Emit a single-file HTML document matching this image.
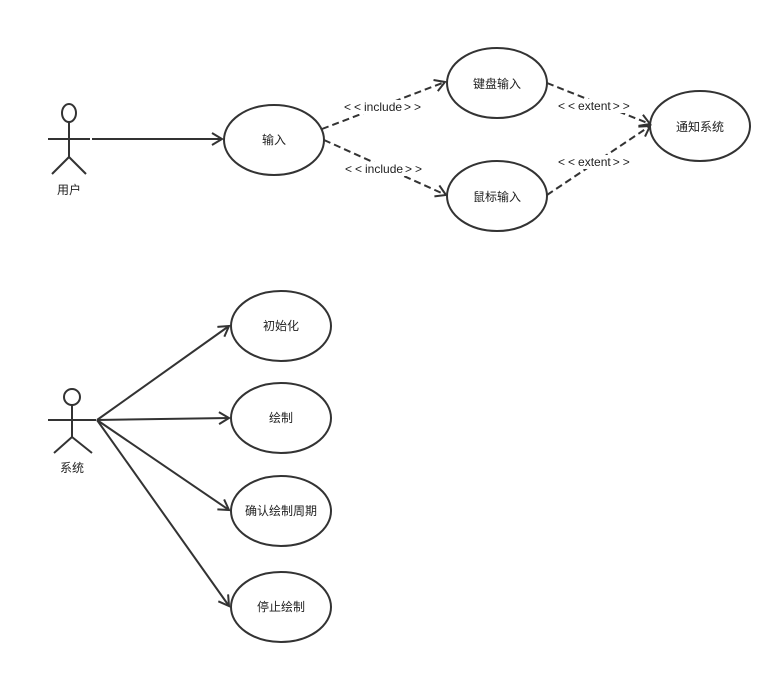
<!DOCTYPE html>
<html><head><meta charset="utf-8"><style>
html,body{margin:0;padding:0;background:#fff;width:781px;height:673px;overflow:hidden}
text{font-family:"Liberation Sans","Noto Sans CJK SC",sans-serif;font-size:12px;fill:#222}
.c{letter-spacing:3px}
</style></head><body>
<svg width="781" height="673" viewBox="0 0 781 673" xmlns="http://www.w3.org/2000/svg">
<defs>
<marker id="a" markerWidth="14" markerHeight="14" refX="11" refY="7" orient="auto" markerUnits="userSpaceOnUse">
<path d="M1,1 L11,7 L1,13" fill="none" stroke="#333" stroke-width="2"/></marker>
</defs>
<g stroke="#333" stroke-width="2" fill="none">
<ellipse cx="69" cy="113" rx="7" ry="9"/>
<line x1="69" y1="122" x2="69" y2="157"/>
<line x1="48" y1="139" x2="90" y2="139"/>
<line x1="69" y1="157" x2="52" y2="174"/>
<line x1="69" y1="157" x2="86" y2="174"/>
<line x1="92" y1="139" x2="222" y2="139" marker-end="url(#a)"/>
<ellipse cx="274" cy="140" rx="50" ry="35"/>
<ellipse cx="497" cy="83" rx="50" ry="35"/>
<ellipse cx="497" cy="196" rx="50" ry="35"/>
<ellipse cx="700" cy="126" rx="50" ry="35"/>
<g stroke-dasharray="7,4">
<line x1="322" y1="129" x2="445" y2="82" marker-end="url(#a)"/>
<line x1="324" y1="140" x2="446" y2="195" marker-end="url(#a)"/>
<line x1="547" y1="83" x2="650" y2="124" marker-end="url(#a)"/>
<line x1="547" y1="195" x2="650" y2="126" marker-end="url(#a)"/>
</g>
<circle cx="72" cy="397" r="8"/>
<line x1="72" y1="405" x2="72" y2="437"/>
<line x1="48" y1="420" x2="96" y2="420"/>
<line x1="72" y1="437" x2="54" y2="453"/>
<line x1="72" y1="437" x2="92" y2="453"/>
<line x1="97" y1="420" x2="229" y2="326" marker-end="url(#a)"/>
<line x1="97" y1="420" x2="229" y2="418" marker-end="url(#a)"/>
<line x1="97" y1="420" x2="229" y2="510" marker-end="url(#a)"/>
<line x1="97" y1="420" x2="229" y2="606" marker-end="url(#a)"/>
<ellipse cx="281" cy="326" rx="50" ry="35"/>
<ellipse cx="281" cy="418" rx="50" ry="35"/>
<ellipse cx="281" cy="511" rx="50" ry="35"/>
<ellipse cx="281" cy="607" rx="50" ry="35"/>
</g>
<g fill="#fff">
<rect x="343" y="100" width="84" height="14"/>
<rect x="344" y="162" width="84" height="14"/>
<rect x="558" y="99" width="82" height="14"/>
<rect x="558" y="155" width="82" height="14"/>
</g>
<g text-anchor="middle">
<text x="69" y="194">用户</text>
<text x="274" y="144">输入</text>
<text x="497" y="88">键盘输入</text>
<text x="497" y="201">鼠标输入</text>
<text x="700" y="131">通知系统</text>
</g>
<text x="344" y="111"><tspan class="c">&lt;&lt;</tspan>include<tspan class="c" dx="2">&gt;&gt;</tspan></text>
<text x="345" y="173"><tspan class="c">&lt;&lt;</tspan>include<tspan class="c" dx="2">&gt;&gt;</tspan></text>
<text x="558" y="110"><tspan class="c">&lt;&lt;</tspan>extent<tspan class="c" dx="2">&gt;&gt;</tspan></text>
<text x="558" y="166"><tspan class="c">&lt;&lt;</tspan>extent<tspan class="c" dx="2">&gt;&gt;</tspan></text>
<g text-anchor="middle">
<text x="72" y="472">系统</text>
<text x="281" y="330">初始化</text>
<text x="281" y="422">绘制</text>
<text x="281" y="515">确认绘制周期</text>
<text x="281" y="611">停止绘制</text>
</g>
</svg>
</body></html>
